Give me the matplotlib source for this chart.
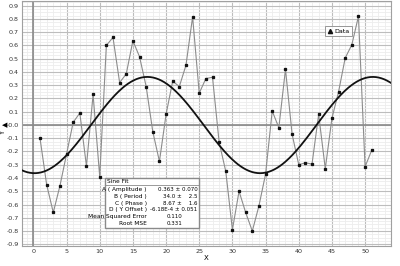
import numpy as np
import matplotlib
matplotlib.use("Agg")
import matplotlib.pyplot as plt
from matplotlib.lines import Line2D
from matplotlib.patches import Rectangle

# ---- data ----
x_data = list(range(1, 52))
y_data = [-0.10, -0.45, -0.66, -0.46, -0.22, 0.02, 0.09, -0.31, 0.23, -0.39,
          0.60, 0.66, 0.32, 0.385, 0.635, 0.515, 0.29, -0.05, -0.275, 0.08,
          0.33, 0.29, 0.45, 0.815, 0.24, 0.35, 0.36, -0.13, -0.35, -0.79,
          -0.50, -0.66, -0.80, -0.61, -0.37, 0.105, -0.02, 0.42, -0.07, -0.30,
          -0.285, -0.295, 0.08, -0.33, 0.05, 0.25, 0.505, 0.605, 0.82, -0.315,
          -0.19]

fit_A = 0.363
fit_B = 34.0
fit_C = 8.67
fit_D = -6.18e-4
fit_labels = ["A ( Amplitude )", "B ( Period )", "C ( Phase )", "D ( Y Offset )",
              "Mean Squared Error", "Root MSE"]
fit_values = ["0.363 ± 0.070", "34.0 ±    2.5", "8.67 ±    1.6", "-6.18E-4 ± 0.051",
              "0.110", "0.331"]

x_ticks = list(range(0, 55, 5))
y_ticks = [round(v, 1) for v in np.arange(-0.9, 0.95, 0.1)]

W, H = 400, 266
fig = plt.figure(figsize=(4, 2.66), dpi=100)
ax = fig.add_axes([21.7 / W, 1 - 246.3 / H, 369 / W, 245.3 / H])
xmin, xmax = -1.76, 53.86
ymin, ymax = -0.915, 0.935
ax.set_xlim(xmin, xmax)
ax.set_ylim(ymin, ymax)

def fx(px):
    return px / W

def fy(py):
    return 1 - py / H

# grid
ax.set_xticks(x_ticks)
ax.set_yticks(y_ticks)
ax.set_xticks(np.arange(-1, 54, 1), minor=True)
ax.set_yticks(np.arange(-0.9, 0.94, 0.025), minor=True)
ax.grid(which="minor", color="#ededed", linewidth=0.6)
ax.grid(which="major", color="#bdbdbd", linewidth=0.8)
ax.axhline(0, color="#8a8a8a", linewidth=1.2, zorder=1)
ax.axvline(0, color="#8a8a8a", linewidth=1.2, zorder=1)
ax.set_axisbelow(True)

ax.tick_params(which="both", length=0, labelsize=4.6, colors="#333333", pad=2)
ax.set_xticklabels([str(v) for v in x_ticks])
ax.set_yticklabels([f"{v:.1f}" for v in y_ticks])
for s in ax.spines.values():
    s.set_color("#a0a0a0")
    s.set_linewidth(0.8)

# data line
ax.plot(x_data, y_data, color="#8c8c8c", linewidth=0.8, zorder=3)
ax.plot(x_data, y_data, linestyle="none", marker="s", markersize=1.4,
        color="#111111", zorder=4)

# fit curve
xf = np.linspace(xmin, xmax, 400)
yf = fit_A * np.sin(2 * np.pi * (xf - fit_C) / fit_B) + fit_D
ax.plot(xf, yf, color="#111111", linewidth=1.3, zorder=5)

ax.set_xlabel("X", fontsize=5, labelpad=1)
fig.text(fx(3), fy(133), "Y", fontsize=5, rotation=90, ha="center", va="center")
fig.text(fx(5), fy(125.5), "◀", fontsize=5, ha="center", va="center")

# legend
handle = Line2D([], [], linestyle="none", marker="^", color="#111111", markersize=3)
leg = ax.legend([handle], ["Data"], loc="center",
                bbox_to_anchor=(fx(338.5), fy(31)), bbox_transform=fig.transFigure,
                fontsize=4.6, frameon=True, fancybox=False, handlelength=0.8,
                handletextpad=0.4, borderpad=0.35, edgecolor="#808080")
leg.get_frame().set_linewidth(0.7)

# fit box
bx0, by0, bx1, by1 = 105, 178, 199, 228
rect = Rectangle((fx(bx0), fy(by1)), fx(bx1) - fx(bx0), fy(by0) - fy(by1),
                 transform=fig.transFigure, facecolor="white", edgecolor="#8a8a8a",
                 linewidth=1.0, zorder=10)
fig.patches.append(rect)
fig.text(fx(107), fy(181.5), "Sine Fit", fontsize=4.2, ha="left", va="center", zorder=11)
fig.add_artist(Line2D([fx(bx0), fx(bx1)], [fy(184.5), fy(184.5)],
                      transform=fig.transFigure, color="#8a8a8a", linewidth=0.6, zorder=11))
row_y = [189.5, 196.3, 203.1, 209.9, 216.7, 223.5]
for i, lab in enumerate(fit_labels):
    yy = fy(row_y[i])
    fig.text(fx(147), yy, lab, fontsize=4.2, ha="right", va="center", zorder=11)
    if i < 4:
        fig.text(fx(197.5), yy, fit_values[i], fontsize=4.0, ha="right", va="center", zorder=11)
    else:
        fig.text(fx(167), yy, fit_values[i], fontsize=4.0, ha="left", va="center", zorder=11)

fig.savefig("out.png", dpi=100)
